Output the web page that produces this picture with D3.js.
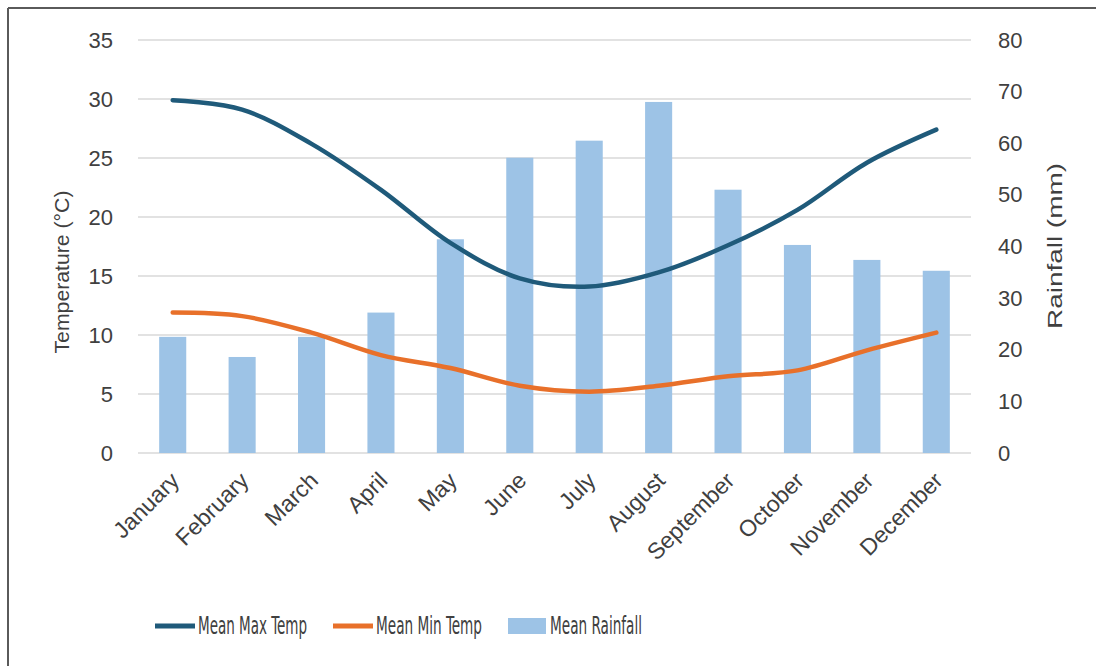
<!DOCTYPE html>
<html>
<head>
<meta charset="utf-8">
<script src="https://cdn.jsdelivr.net/npm/d3@7"></script>
<style>
  html, body { margin: 0; padding: 0; background: #ffffff; }
  svg { display: block; }
</style>
</head>
<body>
<svg id="chart" width="1096" height="666"></svg>
<script>
const months = ["January","February","March","April","May","June","July","August","September","October","November","December"];
const maxTemp = [29.9, 29.1, 26.2, 22.3, 17.8, 14.8, 14.1, 15.3, 17.6, 20.6, 24.6, 27.4];
const minTemp = [11.9, 11.6, 10.2, 8.3, 7.2, 5.7, 5.2, 5.7, 6.5, 7.0, 8.7, 10.2];
const rainfall = [22.5, 18.6, 22.5, 27.2, 41.4, 57.2, 60.5, 68.0, 51.0, 40.3, 37.4, 35.3];
const tempTicks = [0, 5, 10, 15, 20, 25, 30, 35];
const rainTicks = [0, 10, 20, 30, 40, 50, 60, 70, 80];
const legendItems = ["Mean Max Temp", "Mean Min Temp", "Mean Rainfall"];

const colMax = "#1f5a7a";
const colMin = "#e8702a";
const colBar = "#9dc3e6";
const textCol = "#404040";
const font = "'Liberation Sans', Arial, sans-serif";

const svg = d3.select("#chart");

// frame (only top and left edges visible)
svg.append("line").attr("x1", 8).attr("y1", 8).attr("x2", 1096).attr("y2", 8)
  .attr("stroke", "#5a5a5a").attr("stroke-width", 2);
svg.append("line").attr("x1", 8).attr("y1", 8).attr("x2", 8).attr("y2", 666)
  .attr("stroke", "#5a5a5a").attr("stroke-width", 2);

const pLeft = 138, pRight = 971, pTop = 40, pBottom = 453;

const x = d3.scaleBand().domain(months).range([pLeft, pRight]).paddingInner(0.61).paddingOuter(0.305);
const yT = d3.scaleLinear().domain([0, 35]).range([pBottom, pTop]);
const yR = d3.scaleLinear().domain([0, 80]).range([pBottom, pTop]);
const cx = m => x(m) + x.bandwidth() / 2;

// gridlines
svg.append("g").selectAll("line").data(tempTicks).join("line")
  .attr("x1", pLeft).attr("x2", pRight)
  .attr("y1", d => yT(d)).attr("y2", d => yT(d))
  .attr("stroke", "#d9d9d9").attr("stroke-width", 1.5);

// left axis
const gL = svg.append("g").attr("transform", `translate(113,0)`)
  .call(d3.axisLeft(yT).tickValues(tempTicks).tickSize(0).tickPadding(0));
gL.select(".domain").remove();
gL.selectAll("text").attr("font-family", font).attr("font-size", 22).attr("fill", textCol);

// right axis
const gR = svg.append("g").attr("transform", `translate(998,0)`)
  .call(d3.axisRight(yR).tickValues(rainTicks).tickSize(0).tickPadding(0));
gR.select(".domain").remove();
gR.selectAll("text").attr("font-family", font).attr("font-size", 22).attr("fill", textCol);

// bars
svg.append("g").selectAll("rect").data(months).join("rect")
  .attr("x", m => x(m)).attr("width", x.bandwidth())
  .attr("y", (m, i) => yR(rainfall[i]))
  .attr("height", (m, i) => pBottom - yR(rainfall[i]))
  .attr("fill", colBar);

// lines
const line = (arr, scale) => d3.line()
  .x((d, i) => cx(months[i]))
  .y(d => scale(d))
  .curve(d3.curveCatmullRom.alpha(0.5))(arr);

svg.append("path").attr("d", line(minTemp, yT)).attr("fill", "none")
  .attr("stroke", colMin).attr("stroke-width", 4.5).attr("stroke-linecap", "round");
svg.append("path").attr("d", line(maxTemp, yT)).attr("fill", "none")
  .attr("stroke", colMax).attr("stroke-width", 4.5).attr("stroke-linecap", "round");

// x-axis labels
const gX = svg.append("g").attr("transform", `translate(0,${pBottom})`)
  .call(d3.axisBottom(x).tickSize(0).tickPadding(0));
gX.select(".domain").remove();
gX.selectAll(".tick text")
  .attr("font-family", font).attr("font-size", 23).attr("fill", textCol)
  .attr("text-anchor", "end").attr("dy", null).attr("y", null)
  .attr("transform", "translate(8,29) rotate(-45)");

// axis titles
svg.append("text").attr("transform", "translate(69,272) rotate(-90)")
  .attr("text-anchor", "middle").attr("font-family", font).attr("font-size", 21)
  .attr("fill", textCol).attr("textLength", 163).attr("lengthAdjust", "spacingAndGlyphs")
  .text("Temperature (°C)");
svg.append("text").attr("transform", "translate(1062,246) rotate(-90)")
  .attr("text-anchor", "middle").attr("font-family", font).attr("font-size", 20)
  .attr("fill", textCol).attr("textLength", 166).attr("lengthAdjust", "spacingAndGlyphs")
  .text("Rainfall (mm)");

// legend
const legX = [155, 333, 508];
const legText = [198, 376, 550];
const legLen = [109, 106, 92];
const ly = 626;
const lg = svg.append("g");
lg.append("line").attr("x1", legX[0]).attr("x2", legX[0] + 40).attr("y1", ly).attr("y2", ly)
  .attr("stroke", colMax).attr("stroke-width", 5);
lg.append("line").attr("x1", legX[1]).attr("x2", legX[1] + 40).attr("y1", ly).attr("y2", ly)
  .attr("stroke", colMin).attr("stroke-width", 5);
lg.append("rect").attr("x", legX[2]).attr("y", ly - 8).attr("width", 38).attr("height", 16)
  .attr("fill", colBar);
lg.selectAll("text").data(legendItems).join("text")
  .attr("x", (d, i) => legText[i]).attr("y", ly + 8)
  .attr("font-family", "'Liberation Sans Narrow', 'DejaVu Sans Condensed', sans-serif")
  .attr("font-size", 25).attr("fill", textCol)
  .attr("textLength", (d, i) => legLen[i]).attr("lengthAdjust", "spacingAndGlyphs")
  .text(d => d);
</script>
</body>
</html>
